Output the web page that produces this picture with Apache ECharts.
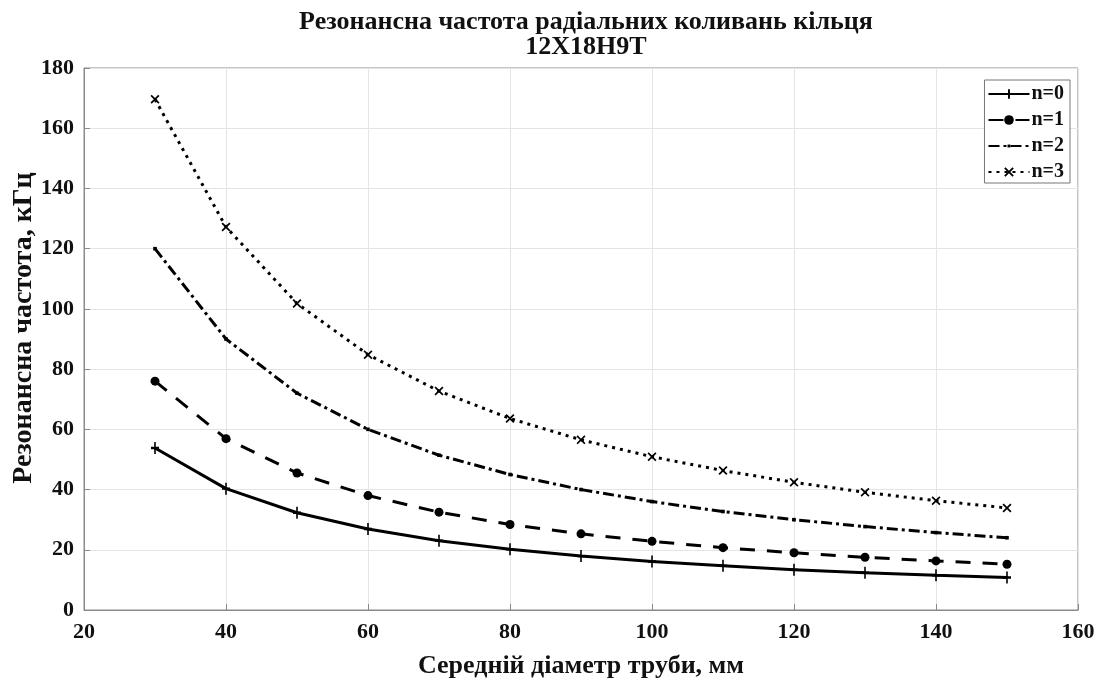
<!DOCTYPE html>
<html><head><meta charset="utf-8">
<script src="https://cdn.jsdelivr.net/npm/echarts@6/dist/echarts.min.js"></script>
<style>html,body{margin:0;padding:0;background:#fff}#c{width:1105px;height:682px}</style>
</head><body><div id="c"></div>
<script>
var diameters = [30,40,50,60,70,80,90,100,110,120,130,140,150];
var n0 = [53.8,40.3,32.3,26.9,23.0,20.2,17.9,16.1,14.7,13.4,12.4,11.5,10.8];
var n1 = [76.0,56.9,45.5,38.0,32.5,28.4,25.3,22.8,20.7,19.0,17.5,16.3,15.2];
var n2 = [120.0,90.0,72.0,60.0,51.4,45.0,40.0,36.0,32.7,30.0,27.7,25.7,24.0];
var n3 = [169.6,127.2,101.8,84.8,72.7,63.6,56.5,50.9,46.3,42.4,39.1,36.3,33.9];
var seriesNames = ['n=0','n=1','n=2','n=3'];
var titleLines = ['Резонансна частота радіальних коливань кільця','12Х18Н9Т'];
var xName = 'Середній діаметр труби, мм';
var yName = 'Резонансна частота, кГц';

var FONT = '"Liberation Serif","Times New Roman",serif';
function pairs(arr){ return diameters.map(function(d,i){return [d,arr[i]];}); }
var plus = 'path://M-1.2,-6 L1.2,-6 L1.2,-1.2 L6,-1.2 L6,1.2 L1.2,1.2 L1.2,6 L-1.2,6 L-1.2,1.2 L-6,1.2 L-6,-1.2 L-1.2,-1.2 Z';
var cross = 'path://M-4,-5.5 L0,-1.5 L4,-5.5 L5.5,-4 L1.5,0 L5.5,4 L4,5.5 L0,1.5 L-4,5.5 L-5.5,4 L-1.5,0 L-5.5,-4 Z';
var smallDot = 'path://M0,0 M12,12 M4.2,4.2 L7.8,4.2 L7.8,7.8 L4.2,7.8 Z';
var styles = [
  {type:'solid', sym: plus, size:[8,12]},
  {type:[15,12], sym:'circle', size:9},
  {type:[11,4,3,4], sym: smallDot, size:12},
  {type:[3,5], sym: cross, size:9}
];
var data = [n0,n1,n2,n3];
var series = data.map(function(arr,k){
  return {
    name: seriesNames[k], type:'line', data: pairs(arr),
    symbol: styles[k].sym, symbolSize: styles[k].size, showSymbol:true,
    lineStyle:{color:'#000', width:3, type: styles[k].type},
    itemStyle:{color:'#000'}, animation:false
  };
});
var chart = echarts.init(document.getElementById('c'));
chart.setOption({
  backgroundColor:'#fff',
  title:{
    text: titleLines.join('\n'), left: 581, top: 5, textAlign:'center',
    textStyle:{fontFamily:FONT, fontWeight:'bold', fontSize:26, color:'#111', lineHeight:25}
  },
  legend:{
    orient:'vertical', right:35, top:80, itemWidth:41, itemHeight:12, itemGap:6,
    backgroundColor:'#fff', borderColor:'#777', borderWidth:1, padding:[4,6,1,3],
    textStyle:{fontFamily:FONT, fontWeight:'bold', fontSize:20, color:'#111', lineHeight:18, padding:[0,0,0,-3]},
    data: seriesNames
  },
  grid:{left:84, right:27, top:68, bottom:72, containLabel:false, outerBoundsMode:'none',
        show:true, borderColor:'#8a8a8a', borderWidth:1},
  xAxis:{
    type:'value', min:20, max:160, interval:20,
    name: xName, nameLocation:'middle', nameGap:43,
    nameTextStyle:{fontFamily:FONT, fontWeight:'bold', fontSize:26, color:'#111'},
    axisLine:{lineStyle:{color:'#8a8a8a'}},
    axisTick:{inside:true, length:6, lineStyle:{color:'#8a8a8a'}},
    axisLabel:{fontFamily:FONT, fontWeight:'bold', fontSize:22, color:'#111', margin:11},
    splitLine:{lineStyle:{color:'#e4e4e4'}}
  },
  yAxis:{
    type:'value', min:0, max:180, interval:20,
    name: yName, nameLocation:'middle', nameGap:46, nameMoveOverlap:false,
    nameTextStyle:{fontFamily:FONT, fontWeight:'bold', fontSize:28, color:'#111', padding:[0,0,0,22]},
    axisLine:{lineStyle:{color:'#8a8a8a'}},
    axisTick:{inside:true, length:6, lineStyle:{color:'#8a8a8a'}},
    axisLabel:{fontFamily:FONT, fontWeight:'bold', fontSize:22, color:'#111', margin:10},
    splitLine:{lineStyle:{color:'#e4e4e4'}}
  },
  series: series
});
</script></body></html>
